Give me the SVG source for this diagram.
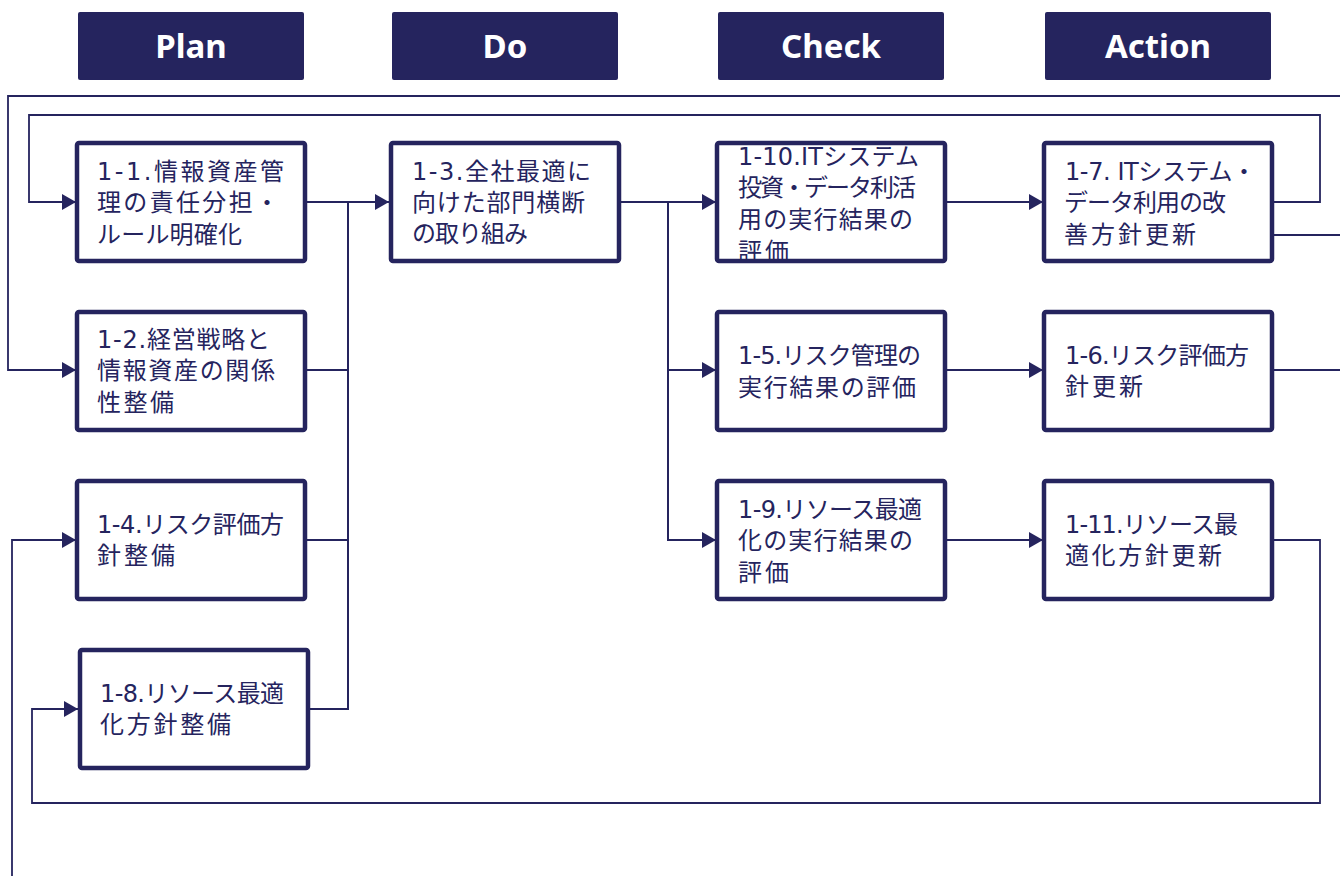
<svg xmlns="http://www.w3.org/2000/svg" width="1340" height="876" viewBox="0 0 1340 876">
<style>
.hdr{fill:#25245E;}
.hdrt{fill:#ffffff;font-family:"Noto Sans","Open Sans","DejaVu Sans",sans-serif;font-weight:700;font-size:33px;text-anchor:middle;}
.box{fill:#ffffff;}
.bord{fill:none;stroke:#25245E;stroke-width:4.5;}
.lbl{fill:#25245E;font-family:"DejaVu Sans","Noto Sans CJK JP",sans-serif;font-size:24px;}
.c{fill:none;stroke:#25245E;stroke-width:2;}
.cl{fill:none;stroke:#25245E;stroke-width:1.8;}
</style>
<defs>
<marker id="ah" viewBox="0 0 14 16" refX="14" refY="8" markerWidth="14" markerHeight="16" markerUnits="userSpaceOnUse" orient="auto">
<path d="M0,0 L14,8 L0,16 z" fill="#25245E"/>
</marker>
</defs>
<rect width="1340" height="876" fill="#ffffff"/>

<g id="headers">
<g id="h-plan"><rect class="hdr" x="78" y="12" width="226" height="68" rx="2"/><text class="hdrt" x="191" y="58">Plan</text></g>
<g id="h-do"><rect class="hdr" x="392" y="12" width="226" height="68" rx="2"/><text class="hdrt" x="505" y="58">Do</text></g>
<g id="h-check"><rect class="hdr" x="718" y="12" width="226" height="68" rx="2"/><text class="hdrt" x="831" y="58">Check</text></g>
<g id="h-action"><rect class="hdr" x="1045" y="12" width="226" height="68" rx="2"/><text class="hdrt" x="1158" y="58">Action</text></g>
</g>

<g id="connectors">
<path class="cl" d="M1340,96 H8 V370 H76" marker-end="url(#ah)"/>
<path class="cl" d="M1273,202 H1320 V115 H29 V202 H76" marker-end="url(#ah)"/>
<path class="c" d="M305,202 H389" marker-end="url(#ah)"/>
<path class="c" d="M305,370 H348"/>
<path class="c" d="M305,540 H348"/>
<path class="c" d="M308,709 H348 V202"/>
<path class="c" d="M620,202 H716" marker-end="url(#ah)"/>
<path class="c" d="M668,202 V540 H716" marker-end="url(#ah)"/>
<path class="c" d="M668,370 H716" marker-end="url(#ah)"/>
<path class="c" d="M945,202 H1043" marker-end="url(#ah)"/>
<path class="c" d="M945,370 H1043" marker-end="url(#ah)"/>
<path class="c" d="M945,540 H1043" marker-end="url(#ah)"/>
<path class="c" d="M1272,235 H1340"/>
<path class="c" d="M1272,370 H1340"/>
<path class="cl" d="M1272,540 H1320 V803 H32 V709 H78" marker-end="url(#ah)"/>
<path class="cl" d="M12,876 V540 H76" marker-end="url(#ah)"/>
</g>

<g id="n1-1">
<rect class="box" x="77" y="143" width="228" height="118"/>
<text class="lbl" x="97" y="180" textLength="187" lengthAdjust="spacing">1-1.情報資産管</text>
<text class="lbl" x="97" y="211" textLength="182" lengthAdjust="spacing">理の責任分担・</text>
<text class="lbl" x="97" y="243" textLength="145" lengthAdjust="spacing">ルール明確化</text>
<rect class="bord" x="77" y="143" width="228" height="118" rx="2"/>
</g>
<g id="n1-2">
<rect class="box" x="77" y="312" width="228" height="118"/>
<text class="lbl" x="97" y="348" textLength="173" lengthAdjust="spacing">1-2.経営戦略と</text>
<text class="lbl" x="97" y="379" textLength="178" lengthAdjust="spacing">情報資産の関係</text>
<text class="lbl" x="97" y="411" textLength="77" lengthAdjust="spacing">性整備</text>
<rect class="bord" x="77" y="312" width="228" height="118" rx="2"/>
</g>
<g id="n1-4">
<rect class="box" x="77" y="481" width="228" height="118"/>
<text class="lbl" x="97" y="533" textLength="187" lengthAdjust="spacing">1-4.リスク評価方</text>
<text class="lbl" x="97" y="564" textLength="78" lengthAdjust="spacing">針整備</text>
<rect class="bord" x="77" y="481" width="228" height="118" rx="2"/>
</g>
<g id="n1-8">
<rect class="box" x="80" y="650" width="228" height="118"/>
<text class="lbl" x="100" y="702" textLength="184" lengthAdjust="spacing">1-8.リソース最適</text>
<text class="lbl" x="100" y="733" textLength="131" lengthAdjust="spacing">化方針整備</text>
<rect class="bord" x="80" y="650" width="228" height="118" rx="2"/>
</g>
<g id="n1-3">
<rect class="box" x="391" y="143" width="228" height="118"/>
<text class="lbl" x="412" y="180" textLength="179" lengthAdjust="spacing">1-3.全社最適に</text>
<text class="lbl" x="412" y="211" textLength="173" lengthAdjust="spacing">向けた部門横断</text>
<text class="lbl" x="412" y="242" textLength="116" lengthAdjust="spacing">の取り組み</text>
<rect class="bord" x="391" y="143" width="228" height="118" rx="2"/>
</g>
<g id="n1-10">
<rect class="box" x="717" y="143" width="228" height="118"/>
<text class="lbl" x="738" y="165" textLength="181" lengthAdjust="spacing">1-10.ITシステム</text>
<text class="lbl" x="738" y="196" textLength="178" lengthAdjust="spacing">投資・データ利活</text>
<text class="lbl" x="738" y="228" textLength="175" lengthAdjust="spacing">用の実行結果の</text>
<text class="lbl" x="738" y="260" textLength="51" lengthAdjust="spacing">評価</text>
<rect class="bord" x="717" y="143" width="228" height="118" rx="2"/>
</g>
<g id="n1-5">
<rect class="box" x="717" y="312" width="228" height="118"/>
<text class="lbl" x="738" y="364" textLength="183" lengthAdjust="spacing">1-5.リスク管理の</text>
<text class="lbl" x="738" y="396" textLength="178" lengthAdjust="spacing">実行結果の評価</text>
<rect class="bord" x="717" y="312" width="228" height="118" rx="2"/>
</g>
<g id="n1-9">
<rect class="box" x="717" y="481" width="228" height="118"/>
<text class="lbl" x="738" y="518" textLength="184" lengthAdjust="spacing">1-9.リソース最適</text>
<text class="lbl" x="738" y="549" textLength="175" lengthAdjust="spacing">化の実行結果の</text>
<text class="lbl" x="738" y="581" textLength="51" lengthAdjust="spacing">評価</text>
<rect class="bord" x="717" y="481" width="228" height="118" rx="2"/>
</g>
<g id="n1-7">
<rect class="box" x="1044" y="143" width="228" height="118"/>
<text class="lbl" x="1065" y="180" textLength="191" lengthAdjust="spacing">1-7. ITシステム・</text>
<text class="lbl" x="1064" y="211" textLength="162" lengthAdjust="spacing">データ利用の改</text>
<text class="lbl" x="1064" y="243" textLength="132" lengthAdjust="spacing">善方針更新</text>
<rect class="bord" x="1044" y="143" width="228" height="118" rx="2"/>
</g>
<g id="n1-6">
<rect class="box" x="1044" y="312" width="228" height="118"/>
<text class="lbl" x="1065" y="364" textLength="184" lengthAdjust="spacing">1-6.リスク評価方</text>
<text class="lbl" x="1065" y="395" textLength="78" lengthAdjust="spacing">針更新</text>
<rect class="bord" x="1044" y="312" width="228" height="118" rx="2"/>
</g>
<g id="n1-11">
<rect class="box" x="1044" y="481" width="228" height="118"/>
<text class="lbl" x="1065" y="533" textLength="173" lengthAdjust="spacing">1-11.リソース最</text>
<text class="lbl" x="1065" y="564" textLength="157" lengthAdjust="spacing">適化方針更新</text>
<rect class="bord" x="1044" y="481" width="228" height="118" rx="2"/>
</g>
</svg>
